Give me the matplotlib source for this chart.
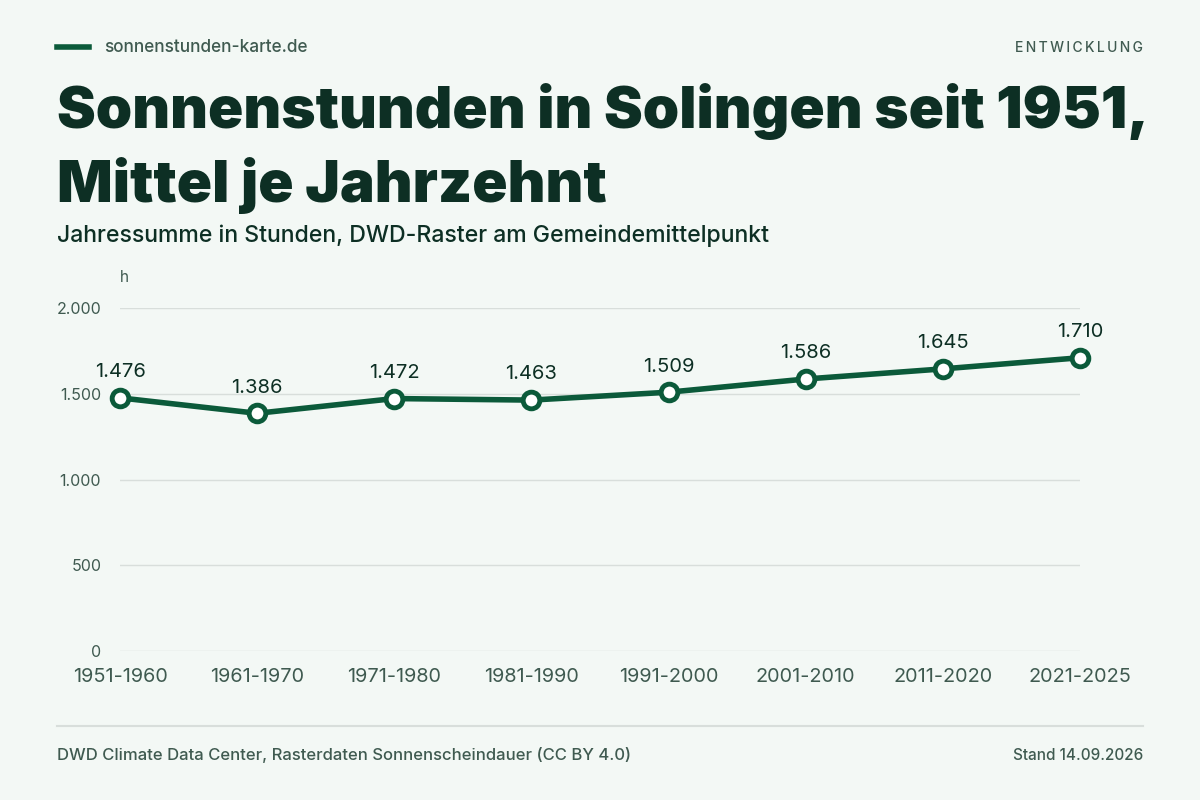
import matplotlib.pyplot as plt
from matplotlib.lines import Line2D

decades = ["1951-1960", "1961-1970", "1971-1980", "1981-1990",
           "1991-2000", "2001-2010", "2011-2020", "2021-2025"]
hours = [1476, 1386, 1472, 1463, 1509, 1586, 1645, 1710]
y_ticks = [0, 500, 1000, 1500, 2000]

BG = "#f3f8f5"
GREEN = "#0b5a3a"
DARK = "#0d2f24"
GREY = "#3f5a50"
GRID = "#d8dedb"


def de_num(v):
    return f"{v:,}".replace(",", ".")


plt.rcParams["font.family"] = ["Inter", "DejaVu Sans"]

fig = plt.figure(figsize=(12, 8), dpi=100, facecolor=BG)
ax = fig.add_axes([0.1, 0.18625, 0.8, 0.42875], facecolor=BG)

x = list(range(len(decades)))
ax.plot(x, hours, color=GREEN, lw=4, marker="o", ms=12, mfc="white",
        mec=GREEN, mew=3.5, zorder=3, clip_on=False)
for xi, v in zip(x, hours):
    ax.annotate(de_num(v), (xi, v), xytext=(0, 12), textcoords="offset points",
                ha="center", va="bottom", fontsize=14.5, color=DARK)

ax.set_xlim(0, len(decades) - 1)
ax.set_ylim(0, 2000)
ax.set_yticks(y_ticks)
ax.set_yticklabels([de_num(t) for t in y_ticks])
ax.set_xticks(x)
ax.set_xticklabels(decades)
ax.tick_params(axis="y", length=0, pad=13.5, labelsize=11.5, labelcolor=GREY)
ax.tick_params(axis="x", length=0, pad=12, labelsize=14.3, labelcolor=GREY)
ax.grid(axis="y", color=GRID, lw=1)
ax.set_axisbelow(True)
for s in ax.spines.values():
    s.set_visible(False)

# header
fig.add_artist(Line2D([57 / 1200, 89 / 1200], [1 - 47 / 800] * 2, color=GREEN, lw=4))
fig.text(104 / 1200, 1 - 48 / 800, "sonnenstunden-karte.de", fontsize=12.4,
         color=GREY, va="center", fontweight="medium")
fig.text(1143 / 1200, 1 - 48 / 800, "\u2009".join("ENTWICKLUNG"), fontsize=10,
         color=GREY, va="center", ha="right", fontweight="medium")
fig.text(57 / 1200, 1 - 112 / 800, "Sonnenstunden in Solingen seit 1951,",
         fontsize=42, fontweight="black", color=DARK, va="center")
fig.text(57 / 1200, 1 - 185 / 800, "Mittel je Jahrzehnt",
         fontsize=42, fontweight="black", color=DARK, va="center")
fig.text(57 / 1200, 1 - 236 / 800,
         "Jahressumme in Stunden, DWD-Raster am Gemeindemittelpunkt",
         fontsize=16.6, color=DARK, va="center", fontweight="medium")
fig.text(120 / 1200, 1 - 278 / 800, "h", fontsize=11, color=GREY, va="center")

# footer
fig.add_artist(Line2D([57 / 1200, 1143 / 1200], [1 - 726 / 800] * 2, color=GRID, lw=1.5))
fig.text(57 / 1200, 1 - 755 / 800,
         "DWD Climate Data Center, Rasterdaten Sonnenscheindauer (CC BY 4.0)",
         fontsize=12, color=GREY, va="center", fontweight="medium")
fig.text(1143 / 1200, 1 - 755 / 800, "Stand 14.09.2026", fontsize=11,
         color=GREY, va="center", ha="right", fontweight="medium")

fig.savefig("out.png", dpi=100, facecolor=BG)
